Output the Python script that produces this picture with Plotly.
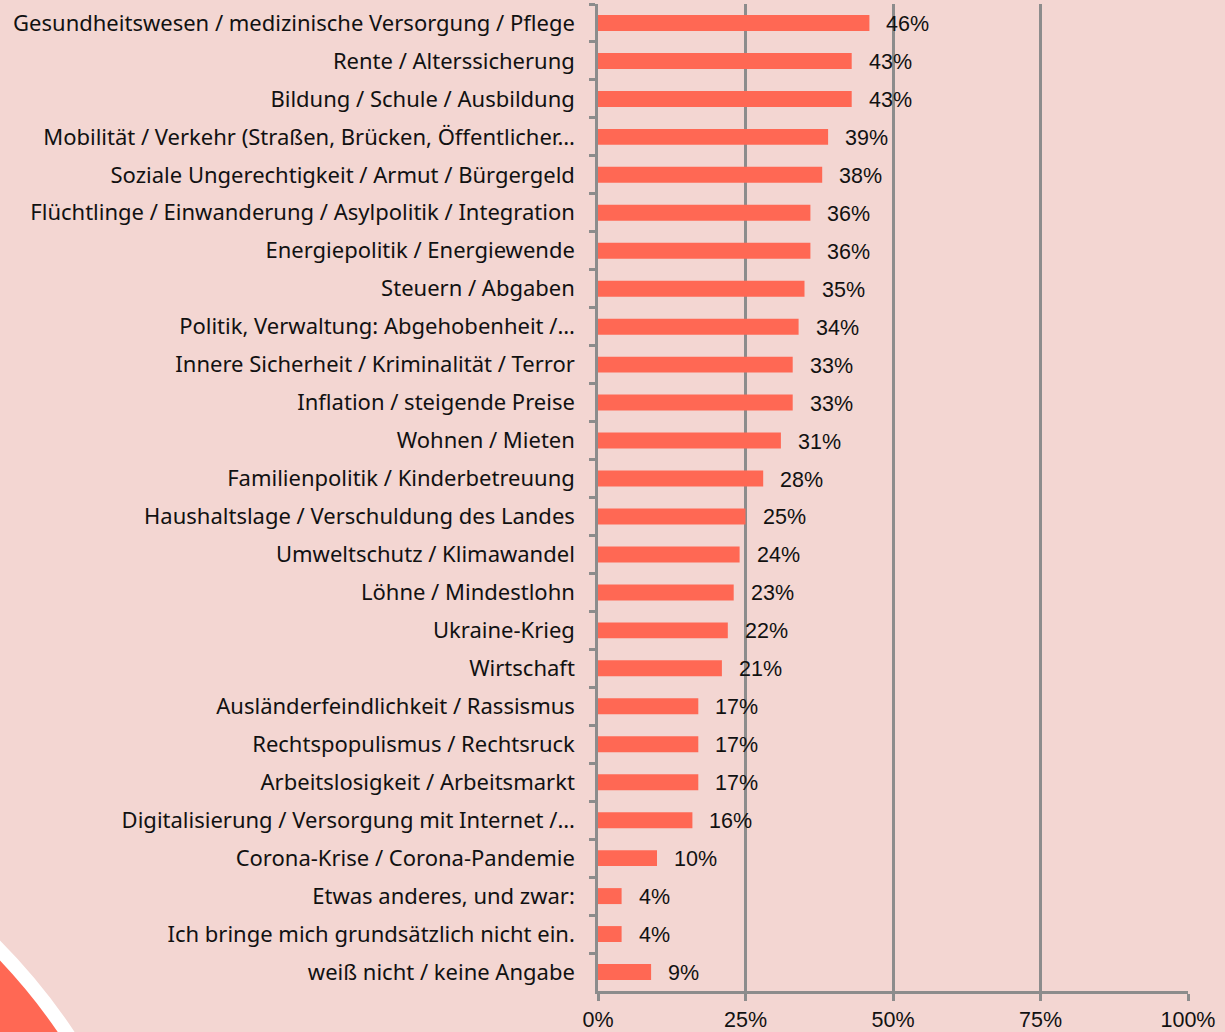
import plotly.graph_objects as go

# survey answers (top to bottom as shown)
topics = [
    "Gesundheitswesen / medizinische Versorgung / Pflege",
    "Rente / Alterssicherung",
    "Bildung / Schule / Ausbildung",
    "Mobilität / Verkehr (Straßen, Brücken, Öffentlicher…",
    "Soziale Ungerechtigkeit / Armut / Bürgergeld",
    "Flüchtlinge / Einwanderung / Asylpolitik / Integration",
    "Energiepolitik / Energiewende",
    "Steuern / Abgaben",
    "Politik, Verwaltung: Abgehobenheit /…",
    "Innere Sicherheit / Kriminalität / Terror",
    "Inflation / steigende Preise",
    "Wohnen / Mieten",
    "Familienpolitik / Kinderbetreuung",
    "Haushaltslage / Verschuldung des Landes",
    "Umweltschutz / Klimawandel",
    "Löhne / Mindestlohn",
    "Ukraine-Krieg",
    "Wirtschaft",
    "Ausländerfeindlichkeit / Rassismus",
    "Rechtspopulismus / Rechtsruck",
    "Arbeitslosigkeit / Arbeitsmarkt",
    "Digitalisierung / Versorgung mit Internet /…",
    "Corona-Krise / Corona-Pandemie",
    "Etwas anderes, und zwar:",
    "Ich bringe mich grundsätzlich nicht ein.",
    "weiß nicht / keine Angabe",
]
shares = [46, 43, 43, 39, 38, 36, 36, 35, 34, 33, 33, 31, 28, 25, 24, 23, 22, 21,
          17, 17, 17, 16, 10, 4, 4, 9]

x_ticks = [0, 25, 50, 75, 100]
x_tick_labels = ["0%", "25%", "50%", "75%", "100%"]

bg = "#F3D6D2"
bar_col = "#FF6854"
grey = "#8C8C8C"

fig = go.Figure()
fig.add_trace(go.Bar(
    x=shares, y=topics, orientation="h",
    marker=dict(color=bar_col, line=dict(width=0)),
    width=0.42, hoverinfo="skip",
))

# value labels next to bars
for t, v in zip(topics, shares):
    fig.add_annotation(x=v, y=t, text=f"{v}%", showarrow=False,
                       xanchor="left", xshift=15, yshift=-1,
                       font=dict(family="Liberation Sans", size=21.5, color="#111111"))

# decorative circle bottom-left (pixel geometry -> paper coords)
W, H = 1225, 1032
L, R, T, B = 598, 37, 4, 41
pw, ph = W - L - R, H - T - B
def px(xp):
    return (xp - L) / pw
def py(yp):
    return (H - B - yp) / ph
cx, cy, rad = -426, 1363, 593
fig.add_shape(type="circle", xref="paper", yref="paper", layer="below",
              x0=px(cx - rad), x1=px(cx + rad), y0=py(cy + rad), y1=py(cy - rad),
              fillcolor=bar_col, line=dict(color="white", width=14))

fig.update_layout(
    width=W, height=H,
    margin=dict(l=L, r=R, t=T, b=B, autoexpand=False),
    paper_bgcolor=bg, plot_bgcolor=bg,
    showlegend=False,
    font=dict(family="Noto Sans", size=22, color="#111111"),
    xaxis=dict(range=[0, 100], tickvals=x_ticks, ticktext=x_tick_labels,
               showgrid=True, gridcolor=grey, gridwidth=2.5,
               showline=True, linecolor=grey, linewidth=2.5,
               ticks="outside", ticklen=7, tickcolor=grey, tickwidth=2.5,
               ticklabelstandoff=0, automargin=False,
               tickfont=dict(family="Liberation Sans", size=21.5, color="#111111"),
               zeroline=False, fixedrange=True),
    yaxis=dict(autorange="reversed", type="category",
               showline=True, linecolor=grey, linewidth=2.5,
               ticks="outside", ticklen=6, tickcolor=grey, tickwidth=2.5,
               tickson="boundaries", ticklabelstandoff=16, automargin=False,
               showgrid=False, zeroline=False),
)

fig.write_html("out.html", config={"displayModeBar": False},
               post_script="document.body.style.margin='0';")
